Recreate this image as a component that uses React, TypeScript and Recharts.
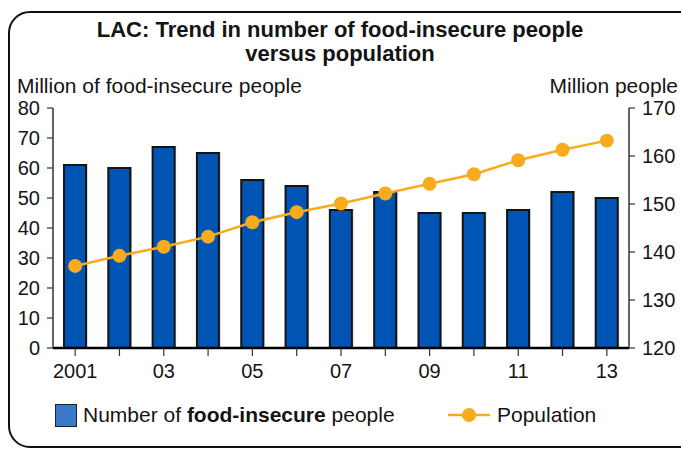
import {
  ComposedChart,
  Bar,
  Line,
  XAxis,
  YAxis,
} from 'recharts'

const YEARS = ['2001', '2002', '2003', '2004', '2005', '2006', '2007', '2008', '2009', '2010', '2011', '2012', '2013']
const TICK_LABELS = ['2001', '', '03', '', '05', '', '07', '', '09', '', '11', '', '13']
const FOOD_INSECURE = [61, 60, 67, 65, 56, 54, 46, 52, 45, 45, 46, 52, 50]
const POPULATION = [137.1, 139.2, 141.1, 143.2, 146.2, 148.3, 150.1, 152.2, 154.2, 156.2, 159.1, 161.3, 163.2]
const LEFT_TICKS = [0, 10, 20, 30, 40, 50, 60, 70, 80]
const RIGHT_TICKS = [120, 130, 140, 150, 160, 170]

const FONT = '"Liberation Sans", Arial, Helvetica, sans-serif'
const BAR_BLUE = '#0054b4'
const LEGEND_BLUE = '#3a78c9'
const ORANGE = '#f9ab1d'
const INK = '#141414'

const data = YEARS.map((year, i) => ({
  year,
  foodInsecure: FOOD_INSECURE[i],
  population: POPULATION[i],
}))

// bar with a faint grey edge, like the print original
function ShadowBar(props: any) {
  const { x, y, width, height } = props
  if (height <= 0) return null
  return (
    <g>
      <rect x={x + 1.5} y={y - 1} width={width} height={height + 1} fill="#b8b8b8" />
      <rect x={x} y={y} width={width} height={height} fill={BAR_BLUE} stroke={INK} strokeWidth={2} />
    </g>
  )
}

export default function App() {
  const tick = { fill: INK, fontSize: 20, fontFamily: FONT }
  return (
    <div
      style={{
        position: 'absolute',
        left: 0,
        top: 0,
        width: 681,
        height: 449,
        overflow: 'hidden',
        background: '#fff',
        fontFamily: FONT,
        color: INK,
      }}
    >
      {/* rounded frame, clipped at right and bottom */}
      <div
        style={{
          position: 'absolute',
          left: 8,
          top: 11,
          width: 700,
          height: 437,
          border: '2px solid #111',
          borderRadius: 22,
          boxSizing: 'border-box',
        }}
      />
      <div
        style={{
          position: 'absolute',
          left: 0,
          top: 18,
          width: 680,
          textAlign: 'center',
          fontWeight: 700,
          fontSize: 22,
          lineHeight: '24px',
        }}
      >
        LAC: Trend in number of food-insecure people
        <br />
        versus population
      </div>
      <div style={{ position: 'absolute', left: 17, top: 74, fontSize: 21, whiteSpace: 'nowrap' }}>
        Million of food-insecure people
      </div>
      <div style={{ position: 'absolute', right: 3, top: 74, fontSize: 21, whiteSpace: 'nowrap' }}>
        Million people
      </div>

      <div style={{ position: 'absolute', left: 0, top: 0 }}>
        <ComposedChart
          width={681}
          height={449}
          data={data}
          barSize={22}
          margin={{ top: 108, right: 0, bottom: 61, left: 0 }}
        >
          <XAxis
            dataKey="year"
            interval={0}
            tickFormatter={(_v: string, i: number) => TICK_LABELS[i]}
            axisLine={{ stroke: '#000', strokeWidth: 2.5 }}
            tickLine={{ stroke: '#333', strokeWidth: 1.2 }}
            tickSize={8}
            tickMargin={8}
            height={40}
            tick={tick}
          />
          <YAxis
            yAxisId="left"
            domain={[0, 80]}
            ticks={LEFT_TICKS}
            interval={0}
            width={53}
            axisLine={{ stroke: '#333', strokeWidth: 1.5 }}
            tickLine={{ stroke: '#333', strokeWidth: 1.2 }}
            tickSize={6}
            tickMargin={7}
            tick={tick}
          />
          <YAxis
            yAxisId="right"
            orientation="right"
            domain={[120, 170]}
            ticks={RIGHT_TICKS}
            interval={0}
            width={52}
            axisLine={{ stroke: '#333', strokeWidth: 1.5 }}
            tickLine={{ stroke: '#333', strokeWidth: 1.2 }}
            tickSize={6}
            tickMargin={7}
            tick={tick}
          />
          <Bar
            yAxisId="left"
            dataKey="foodInsecure"
            name="Number of food-insecure people"
            shape={<ShadowBar />}
            isAnimationActive={false}
          />
          <Line
            yAxisId="right"
            type="linear"
            dataKey="population"
            name="Population"
            stroke={ORANGE}
            strokeWidth={2.5}
            dot={{ r: 7, fill: ORANGE, stroke: 'none' }}
            activeDot={false}
            isAnimationActive={false}
          />
        </ComposedChart>
      </div>

      {/* legend */}
      <div
        style={{
          position: 'absolute',
          left: 55,
          top: 404,
          width: 20,
          height: 21,
          background: LEGEND_BLUE,
          border: '1.5px solid #222',
        }}
      />
      <span style={{ position: 'absolute', left: 83, top: 403, fontSize: 21, whiteSpace: 'nowrap' }}>
        Number of <b>food-insecure</b> people
      </span>
      <svg style={{ position: 'absolute', left: 446, top: 404 }} width={46} height={22}>
        <line x1={2} y1={11} x2={44} y2={11} stroke={ORANGE} strokeWidth={2.5} />
        <circle cx={23} cy={11} r={7} fill={ORANGE} />
      </svg>
      <span style={{ position: 'absolute', left: 497, top: 403, fontSize: 21, whiteSpace: 'nowrap' }}>
        Population
      </span>
    </div>
  )
}
